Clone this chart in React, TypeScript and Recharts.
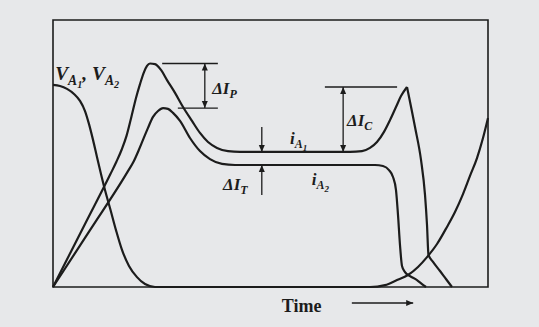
import React from 'react';
import {
  LineChart,
  Line,
  XAxis,
  YAxis,
  ReferenceArea,
  ReferenceLine,
  ReferenceDot,
} from 'recharts';

// Relative time (0–100 across the frame) and relative amplitude (0–100).
type Pt = [number, number];

// Anode current of device 1: rise, turn-on overshoot, conduction plateau, surge peak.
const iA1Rise: Pt[] = [
  [0, 0], [7.36, 23.6], [13.2, 42.3], [14.6, 47.0], [15.8, 51.5], [16.9, 56.6],
  [18.0, 63.6], [19.08, 70.8], [20.0, 76.0], [20.92, 80.5], [21.61, 82.8], [22.3, 83.7],
  [23.45, 83.5], [24.83, 81.3], [26.21, 77.5], [28.05, 72.7], [29.89, 67.4], [31.95, 62.2],
  [33.79, 57.7], [35.63, 54.3], [37.7, 52.1], [40.23, 50.9], [42.99, 50.6], [56.78, 50.6],
  [68.28, 50.6], [71.03, 50.9], [72.87, 52.1], [74.48, 54.3], [76.09, 58.1], [77.47, 62.5],
  [78.85, 67.4], [80.0, 71.5], [81.38, 74.9],
];

// Anode current of device 1 after the surge peak (turn-off).
const iA1Fall: Pt[] = [
  [81.38, 74.9], [83.22, 59.9], [84.6, 47.6], [85.52, 34.5], [85.98, 23.2], [86.32, 12.0],
  [87.36, 9.4], [88.97, 6.0], [90.34, 3.0], [91.72, 0],
];

// Anode current of device 2.
const iA2: Pt[] = [
  [0, 0], [8.51, 21.3], [17.2, 43.3], [18.6, 47.2], [19.7, 51.2], [20.69, 55.1], [21.84, 59.6],
  [22.99, 63.7], [24.14, 65.9], [25.29, 67.0], [26.44, 66.7], [27.59, 65.2], [29.2, 62.2],
  [31.49, 55.8], [33.79, 50.9], [36.09, 47.9], [38.85, 46.1], [41.84, 45.7], [56.78, 45.7],
  [74.02, 45.7], [75.86, 45.3], [77.24, 43.8], [78.16, 41.2], [78.85, 36.3], [79.31, 27.0],
  [79.77, 15.7], [80.23, 7.9], [80.92, 5.6], [82.07, 4.1], [83.68, 2.6], [84.83, 1.1],
  [85.75, 0],
];

// Anode voltage (common to both devices).
const vA: Pt[] = [
  [0, 75.7], [1.61, 75.3], [3.22, 74.2], [4.83, 72.3], [6.21, 69.7], [7.36, 65.9],
  [8.28, 61.0], [9.2, 55.1], [10.11, 48.7], [11.03, 42.3], [11.95, 36.3], [13.1, 29.6],
  [14.48, 21.3], [15.86, 13.9], [17.47, 7.9], [19.31, 3.7], [21.15, 1.1], [23.45, 0],
  [72.87, 0], [76.32, 0.7], [79.08, 2.6], [81.61, 4.5], [83.91, 7.5], [85.98, 11.2],
  [88.28, 16.1], [90.57, 22.5], [92.41, 28.1], [94.25, 34.8], [95.86, 41.6], [97.47, 48.3],
  [98.85, 55.8], [100, 63.3],
];

const toRows = (pts: Pt[]) => pts.map(([t, v]) => ({ t, v }));

const INK = '#1c1c1c';
const PAPER = '#e7e8ea';
const SERIF = '"Liberation Serif", "DejaVu Serif", serif';

type Piece = { s: string; lvl: 0 | 1 | 2 };
const SHIFT = [0, 4, 7];
const SIZE = [17, 12, 9];

function MathText({ x, y, pieces, scale = 1 }: { x: number; y: number; pieces: Piece[]; scale?: number }) {
  let prev = 0;
  return (
    <text x={x} y={y} fill={INK} fontFamily={SERIF} fontStyle="italic" fontWeight={700}>
      {pieces.map((p, i) => {
        const dy = (SHIFT[p.lvl] - SHIFT[prev]) * scale;
        prev = p.lvl;
        return (
          <tspan key={i} dy={dy} fontSize={SIZE[p.lvl] * scale}>
            {p.s}
          </tspan>
        );
      })}
    </text>
  );
}

const labelShape = (pieces: Piece[], scale = 1) => (p: any) => (
  <MathText x={p.cx} y={p.cy} pieces={pieces} scale={scale} />
);

const arrowShape = (both: boolean) => (p: any) => {
  const { x1, y1, x2, y2 } = p;
  const head = (xa: number, ya: number, xb: number, yb: number) => {
    const ang = Math.atan2(yb - ya, xb - xa);
    const L = 7;
    const W = 3;
    const bx = xb - L * Math.cos(ang);
    const by = yb - L * Math.sin(ang);
    const px = -Math.sin(ang) * W;
    const py = Math.cos(ang) * W;
    return <path d={`M${xb},${yb}L${bx + px},${by + py}L${bx - px},${by - py}Z`} fill={INK} />;
  };
  return (
    <g>
      <line x1={x1} y1={y1} x2={x2} y2={y2} stroke={INK} strokeWidth={1.3} />
      {head(x1, y1, x2, y2)}
      {both && head(x2, y2, x1, y1)}
    </g>
  );
};

const curve = { type: 'monotone' as const, dataKey: 'v', stroke: INK, strokeWidth: 2.2, dot: false, isAnimationActive: false };

export default function App() {
  return (
    <div style={{ position: 'absolute', left: 0, top: 0, width: 539, height: 327, background: PAPER }}>
      <LineChart width={539} height={327} margin={{ top: 20, right: 51, bottom: 40, left: 53 }}>
        <XAxis dataKey="t" type="number" domain={[0, 100]} hide />
        <YAxis type="number" domain={[0, 100]} hide />
        <ReferenceArea x1={0} x2={100} y1={0} y2={100} fill="none" stroke={INK} strokeWidth={1.6} strokeOpacity={1} />

        <Line {...curve} data={toRows(vA)} />
        <Line {...curve} data={toRows(iA1Rise)} />
        <Line {...curve} data={toRows(iA1Fall)} />
        <Line {...curve} data={toRows(iA2)} />

        {/* ΔI_P: overshoot between the two turn-on peaks */}
        <ReferenceLine segment={[{ x: 25.1, y: 83.7 }, { x: 37.9, y: 83.7 }]} stroke={INK} strokeWidth={1.3} />
        <ReferenceLine segment={[{ x: 28.7, y: 67.0 }, { x: 37.9, y: 67.0 }]} stroke={INK} strokeWidth={1.3} />
        <ReferenceLine segment={[{ x: 34.9, y: 83.7 }, { x: 34.9, y: 67.0 }]} shape={arrowShape(true)} />

        {/* ΔI_C: surge above the conduction plateau */}
        <ReferenceLine segment={[{ x: 62.5, y: 74.9 }, { x: 79.1, y: 74.9 }]} stroke={INK} strokeWidth={1.3} />
        <ReferenceLine segment={[{ x: 66.7, y: 74.9 }, { x: 66.7, y: 50.6 }]} shape={arrowShape(true)} />

        {/* ΔI_T: steady-state imbalance */}
        <ReferenceLine segment={[{ x: 48.0, y: 59.9 }, { x: 48.0, y: 50.6 }]} shape={arrowShape(false)} />
        <ReferenceLine segment={[{ x: 48.0, y: 34.5 }, { x: 48.0, y: 45.7 }]} shape={arrowShape(false)} />

        {/* time direction arrow */}
        <ReferenceLine
          segment={[{ x: 68.7, y: -6.0 }, { x: 82.8, y: -6.0 }]}
          ifOverflow="visible"
          shape={arrowShape(false)}
        />

        <ReferenceDot
          x={0.5}
          y={77.5}
          r={0}
          shape={labelShape(
            [
              { s: 'V', lvl: 0 }, { s: 'A', lvl: 1 }, { s: '1', lvl: 2 }, { s: ', V', lvl: 0 },
              { s: 'A', lvl: 1 }, { s: '2', lvl: 2 },
            ],
            1.14,
          )}
        />
        <ReferenceDot x={36.6} y={72.3} r={0} shape={labelShape([{ s: 'ΔI', lvl: 0 }, { s: 'P', lvl: 1 }])} />
        <ReferenceDot x={67.6} y={60.3} r={0} shape={labelShape([{ s: 'ΔI', lvl: 0 }, { s: 'C', lvl: 1 }])} />
        <ReferenceDot x={39.1} y={36.3} r={0} shape={labelShape([{ s: 'ΔI', lvl: 0 }, { s: 'T', lvl: 1 }])} />
        <ReferenceDot
          x={54.5}
          y={53.6}
          r={0}
          shape={labelShape([{ s: 'i', lvl: 0 }, { s: 'A', lvl: 1 }, { s: '1', lvl: 2 }])}
        />
        <ReferenceDot
          x={59.5}
          y={38.2}
          r={0}
          shape={labelShape([{ s: 'i', lvl: 0 }, { s: 'A', lvl: 1 }, { s: '2', lvl: 2 }])}
        />
        <ReferenceDot
          x={52.6}
          y={-9.4}
          r={0}
          ifOverflow="visible"
          shape={(p: any) => (
            <text x={p.cx} y={p.cy} fill={INK} fontFamily={SERIF} fontWeight={700} fontSize={18}>
              Time
            </text>
          )}
        />
      </LineChart>
    </div>
  );
}
